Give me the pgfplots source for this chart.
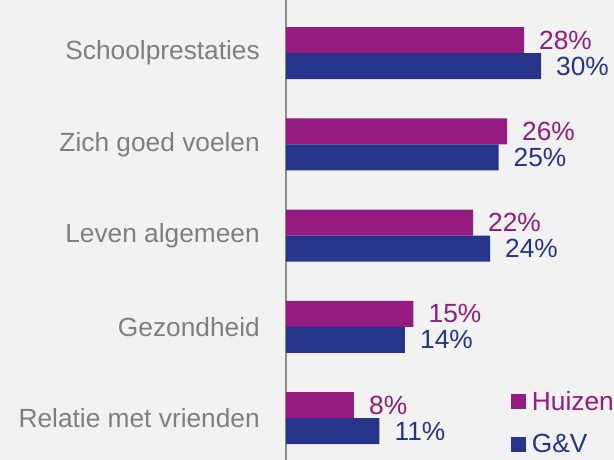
\documentclass[border=0pt]{standalone}
\usepackage{pgfplots}
\pgfplotsset{compat=1.18}
\usepackage{fontspec}
\setmainfont{Liberation Sans}
\definecolor{bgc}{HTML}{F2F2F2}
\definecolor{hz}{HTML}{951B7E}
\definecolor{gv}{HTML}{27348B}
\definecolor{lbl}{HTML}{7F7F7F}
\definecolor{axc}{HTML}{8C8C8C}
\begin{document}
\begin{tikzpicture}
\useasboundingbox (0,0) rectangle (614pt,460pt);
\fill[bgc] (0,0) rectangle (614pt,460pt);
\begin{axis}[
  at={(286pt,0pt)}, anchor=south west,
  scale only axis, width=328pt, height=460pt,
  xmin=0, xmax=38.588,
  ymin=-0.581, ymax=4.46, y dir=reverse,
  axis x line=none, axis y line*=left,
  y axis line style={axc, line width=1.2pt},
  ytick={0,1,2,3,4},
  yticklabels={Schoolprestaties,Zich goed voelen,Leven algemeen,Gezondheid,Relatie met vrienden},
  major tick length=0pt,
  yticklabel style={anchor=east, inner sep=0pt, xshift=-26pt, text=lbl, font=\fontsize{26.3}{30}\selectfont},
  xbar, bar width=26pt, bar shift=0pt,
  /pgf/number format/assume math mode=true,
  nodes near coords={\pgfmathprintnumber{\pgfplotspointmeta}\%},
  nodes near coords style={anchor=west, inner sep=0pt, xshift=15pt, font=\fontsize{26.3}{30}\selectfont},
  legend image code/.code={\fill[#1] (0pt,-7.5pt) rectangle (15pt,7.5pt); \path (18.5pt,0pt);},
  legend style={at={(axis cs:26.5,3.68)}, anchor=north west, draw=none, fill=none,
    inner sep=0pt, row sep=19pt, font=\fontsize{26.3}{30}\selectfont,
    nodes={inner sep=2pt}},
  legend cell align=left,
]
\addplot[fill=hz, draw=none, nodes near coords style={text=hz}] coordinates {
  (28,-0.1425) (26,0.8575) (22,1.8575) (15,2.8575) (8,3.8575)};
\addlegendentry{\textcolor{hz}{Huizen}}
\addplot[fill=gv, draw=none, nodes near coords style={text=gv}] coordinates {
  (30,0.1425) (25,1.1425) (24,2.1425) (14,3.1425) (11,4.1425)};
\addlegendentry{\textcolor{gv}{G\&V}}
\end{axis}
\end{tikzpicture}
\end{document}
